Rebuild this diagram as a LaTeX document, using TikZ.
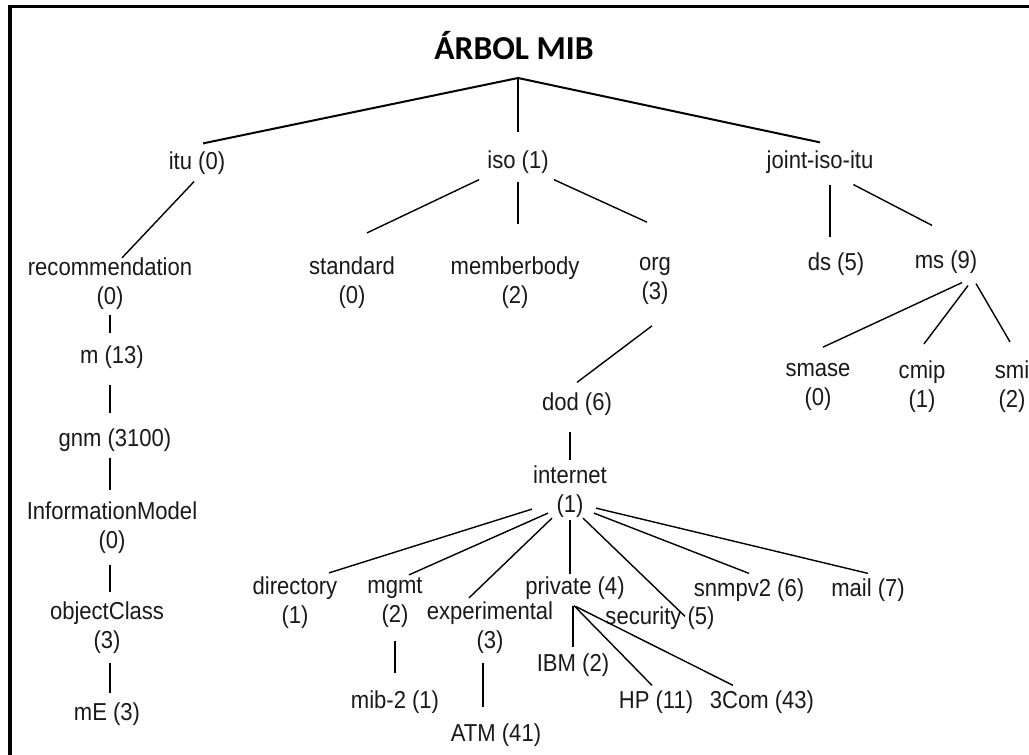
\documentclass[tikz,border=0pt]{standalone}
\usepackage{fontspec}
\setmainfont[FakeStretch=0.9]{Liberation Sans}
\newfontfamily\titolofont{Carlito}
\tikzset{
  nodo/.style={inner sep=2pt, align=center, text=black!90, font=\fontsize{24.5}{29}\selectfont},
  ramo/.style={line width=1.4pt},
  ramogrosso/.style={line width=2pt}
}

\begin{document}
\begin{tikzpicture}[x=1pt, y=-1pt]
    \useasboundingbox (0,0) rectangle (1029,755);

    % 1. Cornice (solo sopra e a sinistra)
    \draw[line width=3pt] (8,6.5) -- (1029,6.5);
    \draw[line width=3.5pt] (10,5) -- (10,755);

    % 2. Titolo e radice
    \node (titolo) at (514,46) {\titolofont\bfseries\fontsize{33.5}{38}\selectfont ÁRBOL MIB};
    \coordinate (radice) at (518,78);

    % 3. Primo livello
    \node[nodo] (itu) at (197,163) {itu (0)};
    \node[nodo] (iso) at (518,162) {iso (1)};
    \node[nodo] (joint) at (820,162) {joint-iso-itu};

    \draw[ramogrosso] (radice) -- ([xshift=6pt,yshift=6pt]itu.north);
    \draw[ramogrosso, shorten >=16pt] (radice) -- (iso.north);
    \draw[ramogrosso] (radice) -- ([yshift=6pt]joint.north);

    % 4. Ramo itu
    \node[nodo] (rec) at (110,284) {recommendation\\(0)};
    \node[nodo] (m13) at (112,357) {m (13)};
    \node[nodo] (gnm) at (115,440) {gnm (3100)};
    \node[nodo] (infmod) at (112,528) {InformationModel\\(0)};
    \node[nodo] (objcls) at (107,628) {objectClass\\(3)};
    \node[nodo] (mE) at (107,714) {mE (3)};

    \draw[ramo] ([xshift=-3pt,yshift=-5pt]itu.south) -- ([xshift=12pt,yshift=-2pt]rec.north);
    \draw[ramo, shorten <=3pt, shorten >=10pt] (rec.south) -- (rec.south |- m13.north);
    \draw[ramo, shorten <=14pt, shorten >=13pt] (rec.south |- m13.south) -- (rec.south |- gnm.north);
    \draw[ramo, shorten <=4pt, shorten >=10pt] (rec.south |- gnm.south) -- (rec.south |- infmod.north);
    \draw[ramo, shorten <=9pt, shorten >=8pt] (rec.south |- infmod.south) -- (rec.south |- objcls.north);
    \draw[ramo, shorten <=7pt, shorten >=7pt] (rec.south |- objcls.south) -- (rec.south |- mE.north);

    % 5. Ramo iso
    \node[nodo] (standard) at (352,283) {standard\\(0)};
    \node[nodo] (member) at (515,283) {memberbody\\(2)};
    \node[nodo] (org) at (655,281) {org\\(3)};
    \node[nodo] (dod) at (577,404) {dod (6)};
    \node[nodo] (internet) at (570,492) {internet\\(1)};

    \draw[ramo] ([xshift=-6pt,yshift=-4pt]iso.south west) -- ([xshift=15pt,yshift=22pt]standard.north);
    \draw[ramo, shorten <=6pt, shorten >=31pt] (iso.south) -- (iso.south |- member.north);
    \draw[ramo] ([xshift=3pt,yshift=-4pt]iso.south east) -- ([xshift=-8pt,yshift=33pt]org.north);
    \draw[ramo] ([xshift=-3pt,yshift=-19pt]org.south) -- ([yshift=8pt]dod.north);
    \draw[ramo, shorten <=14pt, shorten >=4pt] (dod.south -| internet.north) -- (internet.north);

    % 6. Ramo joint-iso-itu
    \node[nodo] (ds) at (836,264) {ds (5)};
    \node[nodo] (ms) at (946,262) {ms (9)};
    \node[nodo] (smase) at (818,387) {smase\\(0)};
    \node[nodo] (cmip) at (922,387) {cmip\\(1)};
    \node[nodo] (smi) at (1012,387) {smi\\(2)};

    \draw[ramo] ([xshift=10pt,yshift=-9pt]joint.south) -- ([xshift=-6pt,yshift=13pt]ds.north);
    \draw[ramo] ([xshift=-22pt,yshift=-9pt]joint.south east) -- ([xshift=-14pt,yshift=23pt]ms.north);
    \draw[ramo] ([xshift=16pt,yshift=-7pt]ms.south) -- ([xshift=5pt,yshift=14pt]smase.north);
    \draw[ramo] ([xshift=22pt,yshift=-10pt]ms.south) -- ([xshift=2pt,yshift=15pt]cmip.north);
    \draw[ramo] ([xshift=30pt,yshift=-8pt]ms.south) -- ([xshift=-2pt,yshift=17pt]smi.north);

    % 7. Figli di internet
    \node[nodo] (directory) at (295,603) {directory\\(1)};
    \node[nodo] (mgmt) at (395,603) {mgmt\\(2)};
    \node[nodo] (experimental) at (490,628) {experimental\\(3)};
    \node[nodo] (private) at (575,588) {private (4)};
    \node[nodo] (security) at (660,618) {security (5)};
    \node[nodo] (snmpv2) at (749,590) {snmpv2 (6)};
    \node[nodo] (mail) at (868,590) {mail (7)};

    \draw[ramo] ([xshift=1pt,yshift=11pt]internet.south west) -- ([xshift=34pt,yshift=2pt]directory.north);
    \draw[ramo] ([xshift=17pt,yshift=7pt]internet.south west) -- ([xshift=14pt,yshift=1pt]mgmt.north);
    \draw[ramo] ([xshift=21pt,yshift=2pt]internet.south west) -- ([xshift=-21pt,yshift=2pt]experimental.north);
    \draw[ramo] (internet.south) -- (internet.south |- private.north);
    \draw[ramo] ([xshift=13pt,yshift=2pt]internet.south) -- ([xshift=25pt,yshift=-12pt]security.north);
    \draw[ramo] ([xshift=-15pt,yshift=7pt]internet.south east) -- ([yshift=3pt]snmpv2.north);
    \draw[ramo] ([xshift=-13pt,yshift=12pt]internet.south east) -- ([yshift=3pt]mail.north);

    % 8. Ultimo livello
    \node[nodo] (mib2) at (395,702) {mib-2 (1)};
    \node[nodo] (atm) at (496,735) {ATM (41)};
    \node[nodo] (ibm) at (573,665) {IBM (2)};
    \node[nodo] (hp) at (656,702) {HP (11)};
    \node[nodo] (tcom) at (762,702) {3Com (43)};

    \draw[ramo, shorten <=11pt, shorten >=15pt] (mgmt.south) -- (mgmt.south |- mib2.north);
    \draw[ramo, shorten <=7pt, shorten >=14pt] ([xshift=-7pt]experimental.south) -- ([xshift=-7pt]experimental.south |- atm.north);
    \draw[ramo, shorten <=4pt, shorten >=4pt] (private.south -| ibm.north) -- (ibm.north);
    \draw[ramo] ([xshift=-1pt,yshift=-4pt]private.south) -- ([xshift=-4pt,yshift=3pt]hp.north);
    \draw[ramo] ([xshift=1pt,yshift=-5pt]private.south) -- ([xshift=-29pt,yshift=3pt]tcom.north);

\end{tikzpicture}
\end{document}
